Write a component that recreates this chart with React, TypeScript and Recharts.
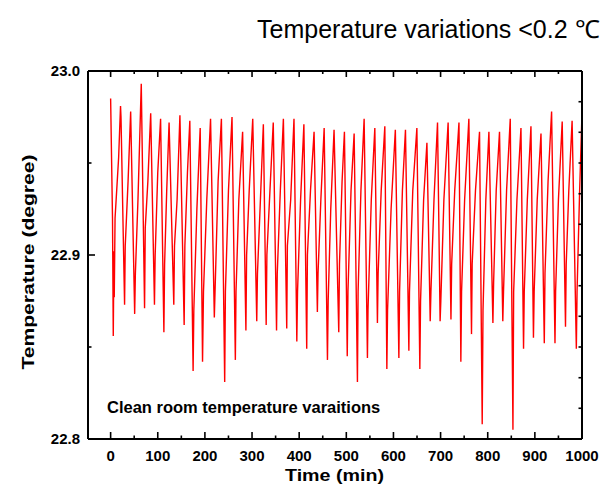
import { LineChart, Line, XAxis, YAxis } from "recharts";

const timeMin = [
  0, 4, 5.6, 7, 7.7, 9.4, 17,
  21, 22, 29.6, 31, 37,
  42.5, 51, 52.5, 58,
  65, 72, 73.5, 79,
  85, 93, 94.5, 100,
  106, 113, 114.5, 119,
  124, 134, 135.5, 141,
  147, 156, 157.5, 163,
  168, 175, 176.5, 183,
  190, 195, 197, 204,
  212, 220, 221.5, 228,
  235, 242, 243.5, 250,
  257.5, 264.6, 266, 272,
  280, 287, 288.5, 294,
  301.5, 310, 311.5, 317,
  324, 330, 331.5, 338,
  345, 352, 353.5, 360,
  366.5, 373.6, 375, 382,
  389, 395, 396.5, 403,
  410, 416, 417.5, 424,
  431.6, 438.6, 440, 446,
  453, 460, 461.5, 467,
  474, 484, 485.5, 491,
  496, 502, 503.5, 510,
  516.6, 523.6, 525, 531,
  537.8, 544.8, 546, 553,
  560.5, 566, 567.5, 574,
  581.7, 586, 587.5, 595,
  604, 611.5, 613, 619,
  625.5, 632.7, 634, 641,
  649.7, 656, 657.5, 664,
  671, 678, 679.5, 686,
  693.5, 699, 700.5, 707,
  716, 722, 723.5, 730,
  739, 743, 744.5, 751,
  760, 765.6, 767, 774,
  782.6, 788.3, 790, 796,
  802.5, 811, 812.5, 818,
  825, 832, 833.5, 840,
  847.8, 853.5, 855, 862,
  870.5, 876, 877.5, 884,
  891.7, 897, 898.5, 905,
  913, 920, 921.5, 928,
  935.5, 942.7, 944, 950,
  958, 965, 966.5, 972,
  979, 988, 989.5, 995,
  1000,
];

const tempC = [
  22.985, 22.92, 22.856, 22.902, 22.877, 22.92, 22.953,
  22.981, 22.975, 22.873, 22.905, 22.94,
  22.978, 22.868, 22.89, 22.93,
  22.993, 22.871, 22.915, 22.94,
  22.977, 22.873, 22.9, 22.945,
  22.974, 22.858, 22.895, 22.935,
  22.972, 22.873, 22.905, 22.93,
  22.976, 22.862, 22.905, 22.945,
  22.973, 22.837, 22.87, 22.925,
  22.969, 22.842, 22.88, 22.93,
  22.974, 22.866, 22.88, 22.94,
  22.974, 22.831, 22.88, 22.935,
  22.975, 22.843, 22.88, 22.93,
  22.967, 22.859, 22.9, 22.935,
  22.974, 22.864, 22.89, 22.925,
  22.971, 22.862, 22.9, 22.935,
  22.972, 22.859, 22.89, 22.935,
  22.974, 22.86, 22.905, 22.93,
  22.974, 22.853, 22.88, 22.93,
  22.971, 22.849, 22.9, 22.935,
  22.967, 22.869, 22.89, 22.93,
  22.969, 22.843, 22.875, 22.925,
  22.968, 22.858, 22.895, 22.94,
  22.967, 22.845, 22.88, 22.935,
  22.966, 22.831, 22.88, 22.935,
  22.974, 22.844, 22.87, 22.93,
  22.969, 22.863, 22.89, 22.935,
  22.97, 22.838, 22.87, 22.925,
  22.968, 22.844, 22.88, 22.935,
  22.968, 22.848, 22.88, 22.935,
  22.969, 22.838, 22.875, 22.93,
  22.961, 22.864, 22.88, 22.93,
  22.972, 22.864, 22.875, 22.93,
  22.972, 22.865, 22.895, 22.935,
  22.972, 22.842, 22.88, 22.93,
  22.974, 22.857, 22.895, 22.935,
  22.967, 22.808, 22.87, 22.93,
  22.967, 22.863, 22.885, 22.935,
  22.967, 22.864, 22.88, 22.935,
  22.974, 22.805, 22.88, 22.93,
  22.969, 22.849, 22.88, 22.93,
  22.97, 22.855, 22.88, 22.93,
  22.966, 22.852, 22.89, 22.94,
  22.978, 22.852, 22.88, 22.93,
  22.9725, 22.861, 22.895, 22.935,
  22.973, 22.849, 22.88, 22.935,
  22.977,
];

const xTicks = [
  0, 50, 100, 150, 200, 250, 300, 350, 400, 450, 500,
  550, 600, 650, 700, 750, 800, 850, 900, 950, 1000,
];
const yTicks = [22.8, 22.85, 22.9, 22.95, 23.0];
const rightTicks = [
  22.8167, 22.8333, 22.85, 22.8667, 22.8833, 22.9,
  22.9167, 22.9333, 22.95, 22.9667, 22.9833,
];

const data = timeMin.map((t, i) => ({ t, v: tempC[i] }));

const FONT = "'Liberation Sans', Arial, sans-serif";
const isMajorX = (v: number) => v % 100 === 0;
const isMajorY = (v: number) => Math.abs(v * 10 - Math.round(v * 10)) < 1e-6;

const BottomTick = ({ x, y, payload }: any) => {
  const major = isMajorX(payload.value);
  return (
    <g>
      <line x1={x} x2={x} y1={y} y2={y - (major ? 7 : 3.5)} stroke="#000" strokeWidth={1.6} />
      {major && (
        <text x={x} y={y + 22} textAnchor="middle" fontFamily={FONT} fontWeight="bold" fontSize={15} fill="#000">
          {payload.value}
        </text>
      )}
    </g>
  );
};

const TopTick = ({ x, y, payload }: any) => {
  const major = isMajorX(payload.value);
  return <line x1={x} x2={x} y1={y} y2={y + (major ? 6 : 3)} stroke="#000" strokeWidth={1.6} />;
};

const LeftTick = ({ x, y, payload }: any) => {
  const major = isMajorY(payload.value);
  return (
    <g>
      <line x1={x} x2={x + (major ? 7 : 3.5)} y1={y} y2={y} stroke="#000" strokeWidth={1.6} />
      {major && (
        <text x={x - 8} y={y + 5.4} textAnchor="end" fontFamily={FONT} fontWeight="bold" fontSize={15} fill="#000">
          {payload.value.toFixed(1)}
        </text>
      )}
    </g>
  );
};

const RightTick = ({ x, y }: any) => (
  <line x1={x} x2={x - 3.5} y1={y} y2={y} stroke="#000" strokeWidth={1.6} />
);

const axisLine = { stroke: "#000", strokeWidth: 2 };

export default function App() {
  return (
    <div style={{ position: "absolute", left: 0, top: 0, width: 608, height: 497, background: "#fff" }}>
      <LineChart
        width={608}
        height={497}
        data={data}
        margin={{ top: 70, right: 25, bottom: 57, left: 87 }}
      >
        <XAxis
          xAxisId="bottom"
          dataKey="t"
          type="number"
          domain={[-48, 1000]}
          allowDataOverflow
          ticks={xTicks}
          interval={0}
          height={1}
          tickSize={0}
          tickMargin={0}
          tickLine={false}
          axisLine={axisLine}
          tick={BottomTick}
        />
        <XAxis
          xAxisId="top"
          orientation="top"
          dataKey="t"
          type="number"
          domain={[-48, 1000]}
          allowDataOverflow
          ticks={xTicks}
          interval={0}
          height={1}
          tickSize={0}
          tickMargin={0}
          tickLine={false}
          axisLine={axisLine}
          tick={TopTick}
        />
        <YAxis
          yAxisId="left"
          type="number"
          domain={[22.8, 23.0]}
          allowDataOverflow
          ticks={yTicks}
          interval={0}
          width={1}
          tickSize={0}
          tickMargin={0}
          tickLine={false}
          axisLine={axisLine}
          tick={LeftTick}
        />
        <YAxis
          yAxisId="right"
          orientation="right"
          type="number"
          domain={[22.8, 23.0]}
          allowDataOverflow
          ticks={rightTicks}
          interval={0}
          width={1}
          tickSize={0}
          tickMargin={0}
          tickLine={false}
          axisLine={axisLine}
          tick={RightTick}
        />
        <Line
          xAxisId="bottom"
          yAxisId="left"
          type="linear"
          dataKey="v"
          stroke="#ff0000"
          strokeWidth={1.4}
          dot={false}
          isAnimationActive={false}
        />
      </LineChart>
      <svg
        width={608}
        height={497}
        style={{ position: "absolute", left: 0, top: 0, pointerEvents: "none" }}
      >
        <text x={257} y={37.5} fontFamily={FONT} fontSize={25} fill="#000">
          Temperature variations &lt;0.2 ℃
        </text>
        <text x={107} y={413} fontFamily={FONT} fontWeight="bold" fontSize={16.5} fill="#000">
          Clean room temperature varaitions
        </text>
        <text
          x={334.5}
          y={481}
          textAnchor="middle"
          fontFamily={FONT}
          fontWeight="bold"
          fontSize={17}
          fill="#000"
          textLength={99}
          lengthAdjust="spacingAndGlyphs"
        >
          Time (min)
        </text>
        <text
          transform="translate(34,262) rotate(-90)"
          textAnchor="middle"
          fontFamily={FONT}
          fontWeight="bold"
          fontSize={17}
          fill="#000"
          textLength={215}
          lengthAdjust="spacingAndGlyphs"
        >
          Temperature (degree)
        </text>
      </svg>
    </div>
  );
}
